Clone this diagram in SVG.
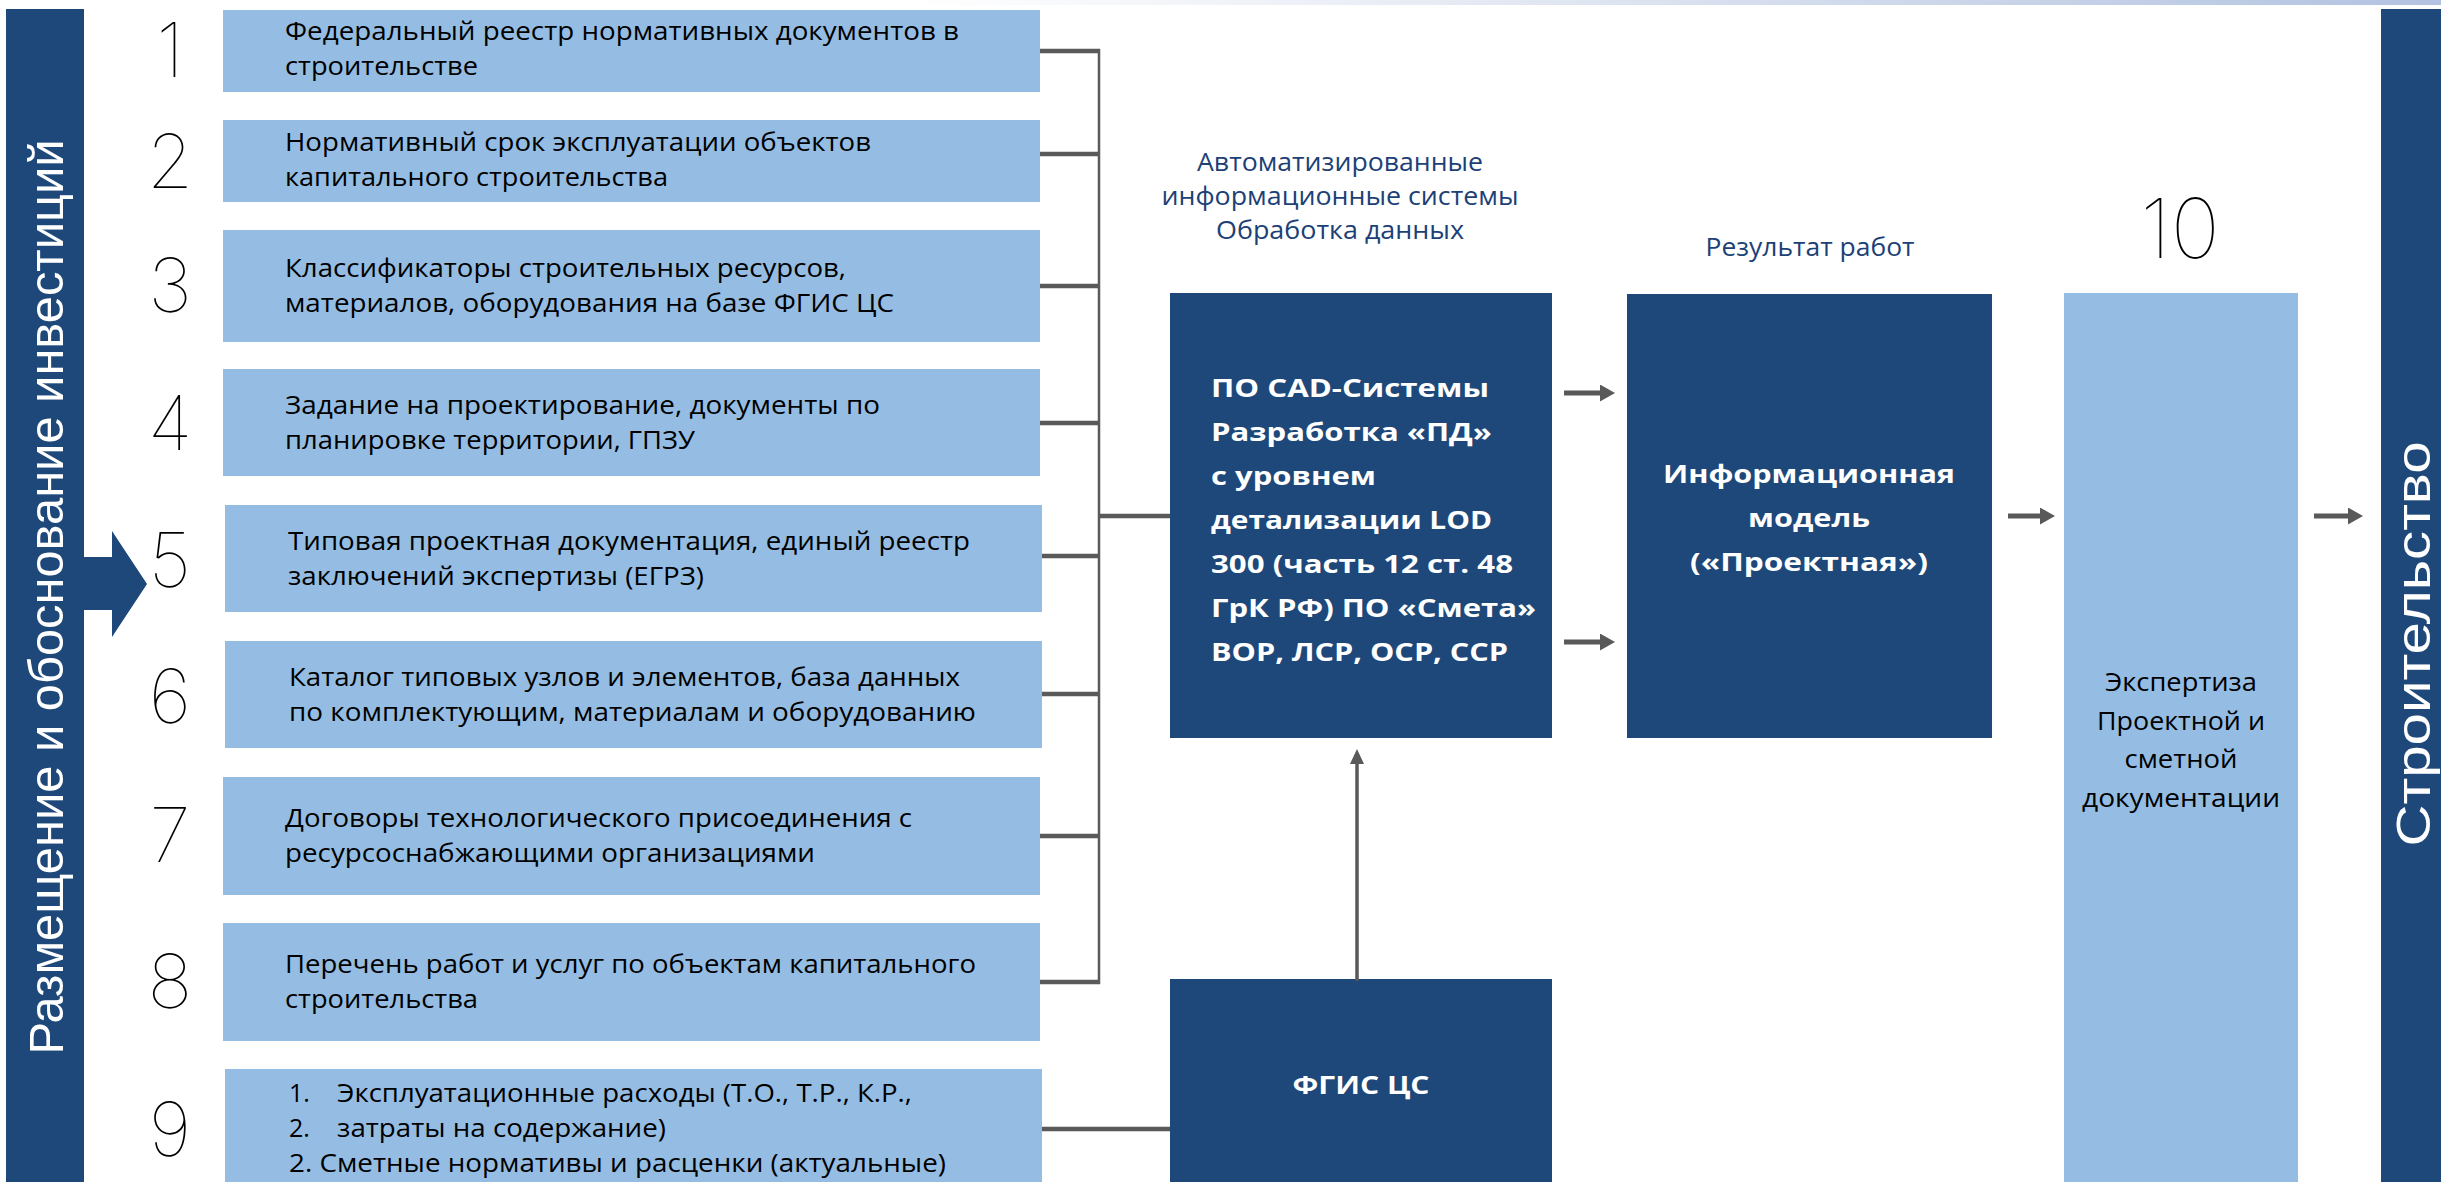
<svg xmlns="http://www.w3.org/2000/svg" width="2441" height="1182" viewBox="0 0 2441 1182">
<style>
.lb{fill:#95bde3}
.db{fill:#1d4879}
.t{font-family:"Open Sans","Liberation Sans",sans-serif;font-size:25px;fill:#000}
.tc{font-family:"Open Sans","Liberation Sans",sans-serif;font-size:25px;fill:#000;text-anchor:middle}
.hd{font-family:"Open Sans","Liberation Sans",sans-serif;font-size:25px;fill:#1c4176;text-anchor:middle}
.num{font-family:Inter,Roboto,"Open Sans",sans-serif;font-weight:100;font-size:75px;fill:#000;text-anchor:middle}
.wb{font-family:"Open Sans","Liberation Sans",sans-serif;font-weight:700;font-size:25px;fill:#fff}
.wbc{font-family:"Open Sans","Liberation Sans",sans-serif;font-weight:700;font-size:25px;fill:#fff;text-anchor:middle}
.vt{font-family:"Liberation Sans",Arial,sans-serif;font-size:48px;fill:#fff;text-anchor:middle}
.stub{stroke:#5a5a5a;stroke-width:4.5;fill:none}
.vl{stroke:#5a5a5a;stroke-width:2.5;fill:none}
.arr{stroke:#595959;stroke-width:5;fill:none}
.arrv{stroke:#595959;stroke-width:3.5;fill:none}
</style>
<defs>
<linearGradient id="topg" x1="0" y1="0" x2="1" y2="0">
<stop offset="0" stop-color="#ffffff"/>
<stop offset="0.25" stop-color="#eef1f7"/>
<stop offset="1" stop-color="#b2c2e0"/>
</linearGradient>
<marker id="ah" markerUnits="userSpaceOnUse" markerWidth="16" markerHeight="17" refX="0" refY="8.5" orient="auto">
<path d="M0,0 L15,8.5 L0,17 Z" fill="#595959"/>
</marker>
<marker id="ahv" markerUnits="userSpaceOnUse" markerWidth="16" markerHeight="14" refX="0" refY="7" orient="auto">
<path d="M0,0 L15,7 L0,14 Z" fill="#595959"/>
</marker>
</defs>

<rect x="900" y="0" width="1541" height="5" fill="url(#topg)"/>

<g id="bar-left">
<rect class="db" x="6" y="9" width="78" height="1173"/>
<path class="db" d="M84,557 L112,557 L112,531 L147,584 L112,637 L112,610 L84,610 Z"/>
<text class="vt" transform="translate(63,597) rotate(-90)" textLength="915" lengthAdjust="spacingAndGlyphs">Размещение и обоснование инвестиций</text>
</g>

<g id="n1">
<rect class="lb" x="223" y="10" width="817" height="82"/>
<text class="num" x="170" y="77">1</text>
<text class="t" x="285" y="40" textLength="674" lengthAdjust="spacingAndGlyphs">Федеральный реестр нормативных документов в</text>
<text class="t" x="285" y="75" textLength="193" lengthAdjust="spacingAndGlyphs">строительстве</text>
</g>
<g id="n2">
<rect class="lb" x="223" y="120" width="817" height="82"/>
<text class="num" x="170" y="188">2</text>
<text class="t" x="285" y="151" textLength="586" lengthAdjust="spacingAndGlyphs">Нормативный срок эксплуатации объектов</text>
<text class="t" x="285" y="186" textLength="383" lengthAdjust="spacingAndGlyphs">капитального строительства</text>
</g>
<g id="n3">
<rect class="lb" x="223" y="230" width="817" height="112"/>
<text class="num" x="170" y="312">3</text>
<text class="t" x="285" y="277" textLength="561" lengthAdjust="spacingAndGlyphs">Классификаторы строительных ресурсов,</text>
<text class="t" x="285" y="312" textLength="609" lengthAdjust="spacingAndGlyphs">материалов, оборудования на базе ФГИС ЦС</text>
</g>
<g id="n4">
<rect class="lb" x="223" y="369" width="817" height="107"/>
<text class="num" x="170" y="450">4</text>
<text class="t" x="285" y="414" textLength="595" lengthAdjust="spacingAndGlyphs">Задание на проектирование, документы по</text>
<text class="t" x="285" y="449" textLength="410" lengthAdjust="spacingAndGlyphs">планировке территории, ГПЗУ</text>
</g>
<g id="n5">
<rect class="lb" x="225" y="505" width="817" height="107"/>
<text class="num" x="170" y="587">5</text>
<text class="t" x="288" y="550" textLength="682" lengthAdjust="spacingAndGlyphs">Типовая проектная документация, единый реестр</text>
<text class="t" x="288" y="585" textLength="416" lengthAdjust="spacingAndGlyphs">заключений экспертизы (ЕГРЗ)</text>
</g>
<g id="n6">
<rect class="lb" x="225" y="641" width="817" height="107"/>
<text class="num" x="170" y="723">6</text>
<text class="t" x="289" y="686" textLength="671" lengthAdjust="spacingAndGlyphs">Каталог типовых узлов и элементов, база данных</text>
<text class="t" x="289" y="721" textLength="687" lengthAdjust="spacingAndGlyphs">по комплектующим, материалам и оборудованию</text>
</g>
<g id="n7">
<rect class="lb" x="223" y="777" width="817" height="118"/>
<text class="num" x="170" y="862">7</text>
<text class="t" x="285" y="827" textLength="627" lengthAdjust="spacingAndGlyphs">Договоры технологического присоединения с</text>
<text class="t" x="285" y="862" textLength="530" lengthAdjust="spacingAndGlyphs">ресурсоснабжающими организациями</text>
</g>
<g id="n8">
<rect class="lb" x="223" y="923" width="817" height="118"/>
<text class="num" x="170" y="1008">8</text>
<text class="t" x="285" y="973" textLength="691" lengthAdjust="spacingAndGlyphs">Перечень работ и услуг по объектам капитального</text>
<text class="t" x="285" y="1008" textLength="193" lengthAdjust="spacingAndGlyphs">строительства</text>
</g>
<g id="n9">
<rect class="lb" x="225" y="1069" width="817" height="113"/>
<text class="num" x="170" y="1156">9</text>
<text class="t" x="289" y="1102">1.</text>
<text class="t" x="337" y="1102" textLength="575" lengthAdjust="spacingAndGlyphs">Эксплуатационные расходы (Т.О., Т.Р., К.Р.,</text>
<text class="t" x="289" y="1137">2.</text>
<text class="t" x="337" y="1137" textLength="329" lengthAdjust="spacingAndGlyphs">затраты на содержание)</text>
<text class="t" x="289" y="1172" textLength="657" lengthAdjust="spacingAndGlyphs">2. Сметные нормативы и расценки (актуальные)</text>
</g>

<g id="labels">
<text class="hd" x="1340" y="171" textLength="286" lengthAdjust="spacingAndGlyphs">Автоматизированные</text>
<text class="hd" x="1340" y="205" textLength="357" lengthAdjust="spacingAndGlyphs">информационные системы</text>
<text class="hd" x="1340" y="239" textLength="248" lengthAdjust="spacingAndGlyphs">Обработка данных</text>
<text class="hd" x="1810" y="256" textLength="209" lengthAdjust="spacingAndGlyphs">Результат работ</text>
<text class="num" x="2180" y="258" style="font-size:83px">10</text>
</g>

<g id="cad">
<rect class="db" x="1170" y="293" width="382" height="445"/>
<text class="wb" x="1211" y="397" textLength="278" lengthAdjust="spacingAndGlyphs">ПО CAD-Системы</text>
<text class="wb" x="1211" y="441" textLength="281" lengthAdjust="spacingAndGlyphs">Разработка «ПД»</text>
<text class="wb" x="1211" y="485" textLength="165" lengthAdjust="spacingAndGlyphs">с уровнем</text>
<text class="wb" x="1211" y="529" textLength="281" lengthAdjust="spacingAndGlyphs">детализации LOD</text>
<text class="wb" x="1211" y="573" textLength="302" lengthAdjust="spacingAndGlyphs">300 (часть 12 ст. 48</text>
<text class="wb" x="1211" y="617" textLength="325" lengthAdjust="spacingAndGlyphs">ГрК РФ) ПО «Смета»</text>
<text class="wb" x="1211" y="661" textLength="297" lengthAdjust="spacingAndGlyphs">ВОР, ЛСР, ОСР, ССР</text>
</g>

<g id="info">
<rect class="db" x="1627" y="294" width="365" height="444"/>
<text class="wbc" x="1809" y="483" textLength="292" lengthAdjust="spacingAndGlyphs">Информационная</text>
<text class="wbc" x="1809" y="527" textLength="122" lengthAdjust="spacingAndGlyphs">модель</text>
<text class="wbc" x="1809" y="571" textLength="238" lengthAdjust="spacingAndGlyphs">(«Проектная»)</text>
</g>

<g id="expert">
<rect class="lb" x="2064" y="293" width="234" height="889"/>
<text class="tc" x="2181" y="691" textLength="152" lengthAdjust="spacingAndGlyphs">Экспертиза</text>
<text class="tc" x="2181" y="730" textLength="168" lengthAdjust="spacingAndGlyphs">Проектной и</text>
<text class="tc" x="2181" y="768" textLength="113" lengthAdjust="spacingAndGlyphs">сметной</text>
<text class="tc" x="2181" y="807" textLength="198" lengthAdjust="spacingAndGlyphs">документации</text>
</g>

<g id="fgis">
<rect class="db" x="1170" y="979" width="382" height="203"/>
<text class="wbc" x="1361" y="1094" textLength="137" lengthAdjust="spacingAndGlyphs">ФГИС ЦС</text>
</g>

<g id="bar-right">
<rect class="db" x="2381" y="9" width="60" height="1173"/>
<text class="vt" transform="translate(2430,644) rotate(-90)" textLength="405" lengthAdjust="spacingAndGlyphs">Строительство</text>
</g>

<g id="connectors">
<line class="vl" x1="1099" y1="49" x2="1099" y2="984"/>
<line class="stub" x1="1040" y1="51" x2="1100" y2="51"/>
<line class="stub" x1="1040" y1="154" x2="1100" y2="154"/>
<line class="stub" x1="1040" y1="286" x2="1100" y2="286"/>
<line class="stub" x1="1040" y1="423" x2="1100" y2="423"/>
<line class="stub" x1="1042" y1="556" x2="1100" y2="556"/>
<line class="stub" x1="1042" y1="694" x2="1100" y2="694"/>
<line class="stub" x1="1040" y1="836" x2="1100" y2="836"/>
<line class="stub" x1="1040" y1="982" x2="1100" y2="982"/>
<line class="stub" x1="1099" y1="516" x2="1170" y2="516"/>
<line class="stub" x1="1042" y1="1129" x2="1170" y2="1129"/>
<line class="arr" x1="1564" y1="393" x2="1600" y2="393" marker-end="url(#ah)"/>
<line class="arr" x1="1564" y1="642" x2="1600" y2="642" marker-end="url(#ah)"/>
<line class="arr" x1="2008" y1="516" x2="2040" y2="516" marker-end="url(#ah)"/>
<line class="arr" x1="2314" y1="516" x2="2348" y2="516" marker-end="url(#ah)"/>
<line class="arrv" x1="1357" y1="981" x2="1357" y2="764" marker-end="url(#ahv)"/>
</g>
</svg>
